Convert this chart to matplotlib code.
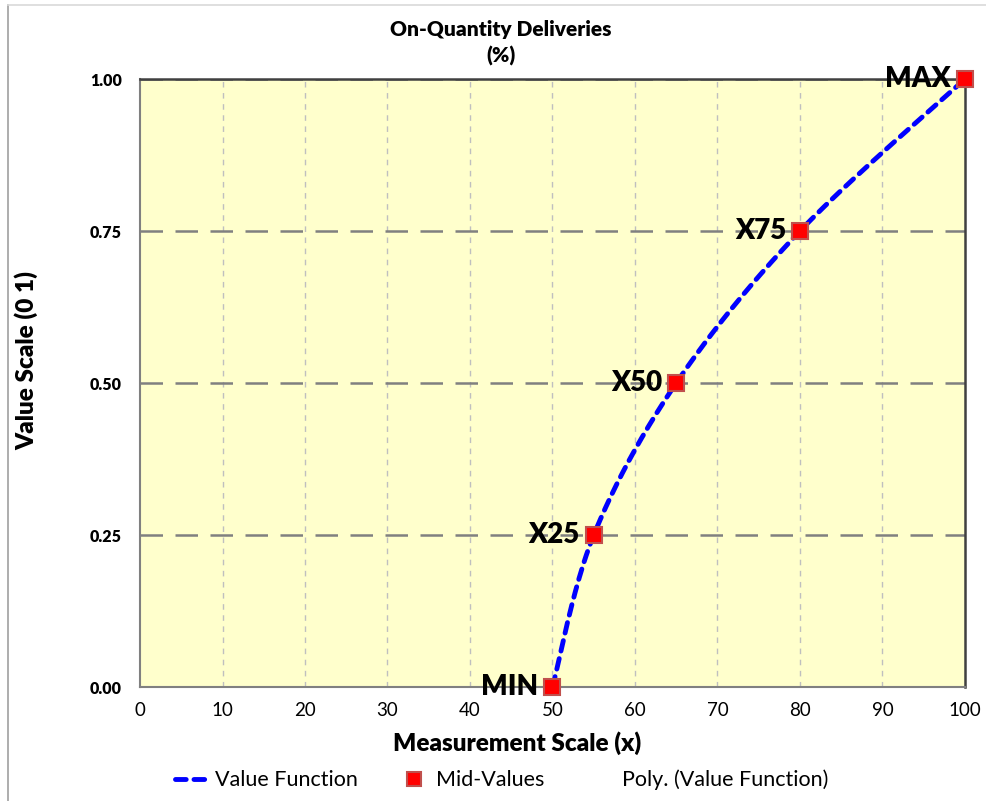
import numpy as np
import matplotlib
matplotlib.use("Agg")
import matplotlib.pyplot as plt
from matplotlib.lines import Line2D

plt.rcParams['font.family'] = ['Lato', 'DejaVu Sans']

# ---- data ----
point_labels = ["MIN", "X25", "X50", "X75", "MAX"]
x_vals = [50, 55, 65, 80, 100]
y_vals = [0.00, 0.25, 0.50, 0.75, 1.00]
x_ticks = [0, 10, 20, 30, 40, 50, 60, 70, 80, 90, 100]
y_ticks = [0.00, 0.25, 0.50, 0.75, 1.00]
title = "On-Quantity Deliveries\n(%)"
xlabel = "Measurement Scale (x)"
ylabel = "Value Scale (0 1)"
legend_labels = ["Value Function", "Mid-Values", "Poly. (Value Function)"]


def smooth(xs, ys, n=40):
    # Catmull-Rom smoothing of the line through the data points (in normalised space)
    px = np.array(xs, float) / 100.0
    py = np.array(ys, float)
    P = np.column_stack([px, py])
    P = np.vstack([P[0], P, P[-1]])
    out = []
    for i in range(1, len(P) - 2):
        p0, p1, p2, p3 = P[i - 1], P[i], P[i + 1], P[i + 2]
        t = np.linspace(0, 1, n)[:, None]
        seg = 0.5 * ((2 * p1) + (-p0 + p2) * t + (2 * p0 - 5 * p1 + 4 * p2 - p3) * t ** 2
                     + (-p0 + 3 * p1 - 3 * p2 + p3) * t ** 3)
        out.append(seg if i == 1 else seg[1:])
    out = np.vstack(out)
    return out[:, 0] * 100.0, out[:, 1]


fig = plt.figure(figsize=(9.86, 8.01), dpi=100)
ax = fig.add_axes([140 / 986, 1 - 687 / 801, 825 / 986, 608 / 801])
ax.set_facecolor("#FFFFCC")
ax.set_xlim(0, 100)
ax.set_ylim(0, 1)

# grid
for xt in x_ticks[1:-1]:
    ax.axvline(xt, color="#BFBFBF", lw=1, ls=(0, (4, 4)), zorder=1)
for yt in y_ticks[1:]:
    ax.axhline(yt, color="#808080", lw=1.8, ls=(0, (9, 5)), zorder=1)

sx, sy = smooth(x_vals, y_vals)
ax.plot(sx, sy, color="#0000FF", lw=3.5, ls=(0, (2.2, 1.6)), zorder=3,
        solid_capstyle="round", dash_capstyle="round")
ax.plot(x_vals, y_vals, ls="none", marker="s", ms=12, mfc="#FF0000", mec="#C0504D",
        mew=1.5, zorder=4, clip_on=False)

for lab, xv, yv in zip(point_labels, x_vals, y_vals):
    ax.annotate(lab, (xv, yv), xytext=(-10, 0), textcoords="offset points",
                ha="right", va="center", fontsize=20, fontweight="heavy", zorder=5,
                annotation_clip=False)

ax.set_xticks(x_ticks)
ax.set_xticklabels([str(v) for v in x_ticks], fontsize=13.5)
ax.set_yticks(y_ticks)
ax.set_yticklabels([f"{v:.2f}" for v in y_ticks], fontsize=11.5, fontweight="heavy")
ax.tick_params(length=0)
ax.tick_params(axis="x", pad=11)
ax.tick_params(axis="y", pad=13)

for s in ["left", "bottom"]:
    ax.spines[s].set_color("#808080")
    ax.spines[s].set_linewidth(1.5)
for s in ["right", "top"]:
    ax.spines[s].set_color("#404040")
    ax.spines[s].set_linewidth(1.8)

fig.text(0.508, 1 - 43 / 801, title, ha="center", va="center", fontsize=15,
         fontweight="heavy", linespacing=1.4)
fig.text(517 / 986, 1 - 743 / 801, xlabel, ha="center", va="center", fontsize=17.5,
         fontweight="heavy")
fig.text(26 / 986, 1 - 360 / 801, ylabel, ha="center", va="center", fontsize=17.5,
         fontweight="heavy", rotation=90)

handles = [
    Line2D([], [], color="#0000FF", lw=3.5, ls=(0, (2.2, 1.6)), dash_capstyle="round"),
    Line2D([], [], ls="none", marker="s", ms=10, mfc="#FF0000", mec="#C0504D", mew=1.5),
    Line2D([], [], ls="none"),
]
fig.legend(handles, legend_labels, loc="center", bbox_to_anchor=(0.509, 1 - 780 / 801),
           ncol=3, frameon=False, fontsize=15.5, columnspacing=1.75, handlelength=1.67,
           handletextpad=0.2)

# outer chart-area border (left and top edges)
fig.add_artist(Line2D([8 / 986, 8 / 986], [0, 1 - 5 / 801], color="#A0A0A0", lw=1.2,
                      transform=fig.transFigure))
fig.add_artist(Line2D([8 / 986, 1], [1 - 5 / 801, 1 - 5 / 801], color="#D9D9D9", lw=1.2,
                      transform=fig.transFigure))

fig.savefig("out.png", dpi=100)
